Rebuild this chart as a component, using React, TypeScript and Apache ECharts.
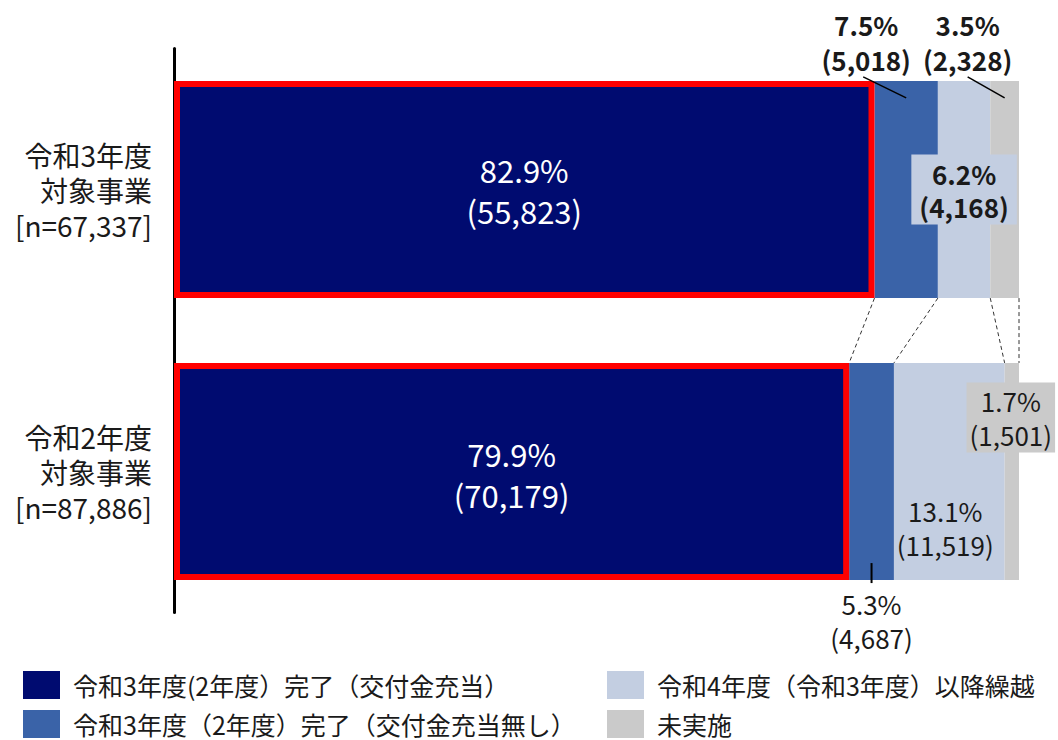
import React, { useEffect, useRef } from "react";
import * as echarts from "echarts";

const categories = ["令和3年度\n対象事業\n[n=67,337]", "令和2年度\n対象事業\n[n=87,886]"];
const seriesNames = [
  "令和3年度(2年度）完了（交付金充当）",
  "令和3年度（2年度）完了（交付金充当無し）",
  "令和4年度（令和3年度）以降繰越",
  "未実施",
];
const colors = ["#000B70", "#3A63A8", "#C3CEE1", "#CACACA"];
// percentages per series: [令和3年度, 令和2年度]
const pctDone = [82.9, 79.9];
const pctDoneNoGrant = [7.5, 5.3];
const pctCarry = [6.2, 13.1];
const pctNot = [3.5, 1.7];
// counts per series
const cntDone = [55823, 70179];
const cntDoneNoGrant = [5018, 4687];
const cntCarry = [4168, 11519];
const cntNot = [2328, 1501];

const pcts = [pctDone, pctDoneNoGrant, pctCarry, pctNot];
const cnts = [cntDone, cntDoneNoGrant, cntCarry, cntNot];

const FONT = "'Noto Sans CJK JP', 'Noto Sans', sans-serif";

const fmt = (s: number, i: number) =>
  `${pcts[s][i].toFixed(1)}%\n(${cnts[s][i].toLocaleString("en-US")})`;

export default function App() {
  const ref = useRef<HTMLDivElement>(null);
  useEffect(() => {
    if (!ref.current) return;
    const chart = echarts.init(ref.current, undefined, { renderer: "svg" });

    const baseLabel = {
      show: true,
      fontFamily: FONT,
      color: "#1a1a1a",
      fontSize: 26,
      lineHeight: 34,
      align: "center" as const,
    };

    // label styles per [series][category]
    const labelCfg: any[][] = [
      [
        { ...baseLabel, position: "inside", color: "#fff", fontSize: 31, lineHeight: 41 },
        { ...baseLabel, position: "inside", color: "#fff", fontSize: 31, lineHeight: 41, offset: [0, 2] },
      ],
      [
        { ...baseLabel, position: "top", fontWeight: "bold", lineHeight: 35, distance: 4, offset: [-40, 0] },
        { ...baseLabel, position: "bottom", distance: 6 },
      ],
      [
        {
          ...baseLabel,
          position: "inside",
          fontWeight: "bold",
          lineHeight: 33,
          backgroundColor: "#C3CEE1",
          padding: [2, 8, 2, 8],
        },
        { ...baseLabel, position: "inside", offset: [-4, 56] },
      ],
      [
        { ...baseLabel, position: "top", fontWeight: "bold", lineHeight: 35, distance: 4, offset: [-37, 0] },
        {
          ...baseLabel,
          position: "inside",
          offset: [-1, -54],
          backgroundColor: "#CACACA",
          padding: [1, 3, 1, 3],
        },
      ],
    ];

    const barSeries = pcts.map((arr, s) => ({
      name: seriesNames[s],
      type: "bar",
      stack: "total",
      barCategoryGap: "23%",
      z: s === 0 ? 3 : 2,
      itemStyle:
        s === 0
          ? { color: colors[s], borderColor: "#FF0000", borderWidth: 6 }
          : { color: colors[s] },
      emphasis: { disabled: true },
      data: arr.map((v, i) => ({
        value: v,
        label: { ...labelCfg[s][i], formatter: () => fmt(s, i) },
      })),
    }));

    const cum = (i: number) => {
      const out: number[] = [];
      let acc = 0;
      for (let s = 0; s < pcts.length; s++) {
        acc += pcts[s][i];
        out.push(Math.min(acc, 100));
      }
      return out;
    };

    const overlay = {
      type: "custom",
      z: 5,
      silent: true,
      data: [[0, 0]],
      renderItem: (_params: any, api: any) => {
        const band = api.size([0, 1])[1];
        const barH = band * 0.77;
        const topEdgeBottom = api.coord([0, 0])[1] + barH / 2;
        const topEdgeTop = api.coord([0, 0])[1] - barH / 2;
        const botEdgeTop = api.coord([0, 1])[1] - barH / 2;
        const botEdgeBottom = api.coord([0, 1])[1] + barH / 2;
        const cTop = cum(0);
        const cBot = cum(1);
        const children: any[] = [];
        for (let s = 0; s < cTop.length; s++) {
          const x1 = api.coord([cTop[s], 0])[0];
          const x2 = api.coord([cBot[s], 1])[0];
          children.push({
            type: "line",
            shape: { x1, y1: topEdgeBottom, x2, y2: botEdgeTop },
            style: { stroke: "#333", lineWidth: 1, lineDash: [4, 3] },
          });
        }
        const mid = (a: number, b: number, i: number) => api.coord([(a + b) / 2, i])[0];
        const c1 = mid(cTop[0], cTop[1], 0);
        const c3 = mid(cTop[2], cTop[3], 0);
        children.push({
          type: "line",
          shape: { x1: c1 - 43, y1: topEdgeTop - 4, x2: c1, y2: topEdgeTop + 17 },
          style: { stroke: "#000", lineWidth: 1.5 },
        });
        children.push({
          type: "line",
          shape: { x1: c3 - 37, y1: topEdgeTop - 4, x2: c3, y2: topEdgeTop + 17 },
          style: { stroke: "#000", lineWidth: 1.5 },
        });
        const c2b = mid(cBot[0], cBot[1], 1);
        children.push({
          type: "line",
          shape: { x1: c2b, y1: botEdgeBottom - 17, x2: c2b, y2: botEdgeBottom + 3 },
          style: { stroke: "#000", lineWidth: 2 },
        });
        return { type: "group", children };
      },
    };

    const legendPos = [
      { left: 23, top: 671 },
      { left: 23, top: 710 },
      { left: 607, top: 671 },
      { left: 607, top: 710 },
    ];
    const legends = seriesNames.map((name, k) => ({
      orient: "horizontal",
      left: legendPos[k].left,
      top: legendPos[k].top,
      padding: 0,
      itemWidth: 37,
      itemHeight: 28,
      icon: "rect",
      selectedMode: false,
      itemStyle: { borderWidth: 0 },
      data: [name],
      textStyle: {
        fontFamily: FONT,
        fontSize: 25,
        lineHeight: 28,
        color: "#1a1a1a",
        padding: [0, 0, 0, 8],
      },
    }));

    chart.setOption({
      animation: false,
      color: colors,
      grid: { left: 174, right: 39, top: 48.5, bottom: 127.5, containLabel: false },
      xAxis: { type: "value", min: 0, max: 100, show: false },
      yAxis: {
        type: "category",
        inverse: true,
        data: categories,
        axisLine: { show: true, lineStyle: { color: "#000", width: 3 } },
        axisTick: { show: false },
        axisLabel: {
          fontFamily: FONT,
          fontSize: 28,
          lineHeight: 35,
          color: "#1a1a1a",
          margin: 22,
          align: "right",
        },
      },
      legend: legends,
      series: [...barSeries, overlay],
    });
    return () => chart.dispose();
  }, []);
  return <div ref={ref} style={{ width: 1058, height: 740, position: "absolute", left: 0, top: 0 }} />;
}
